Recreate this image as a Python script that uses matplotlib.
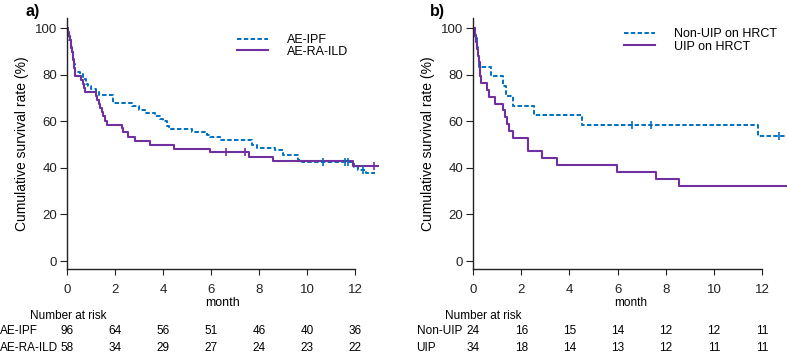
import matplotlib
matplotlib.use("Agg")
import matplotlib.pyplot as plt
import matplotlib.transforms as mtransforms

plt.rcParams['font.family'] = ['Liberation Sans', 'DejaVu Sans']

BLUE = '#0070C0'
PURPLE = '#7030A0'

# ---- panel a: AE-IPF vs AE-RA-ILD (last point = end of follow-up)
ipf_t = [0, 0.05, 0.1, 0.15, 0.2, 0.25, 0.29, 0.33, 0.54, 0.68, 0.79, 0.89, 1.0, 1.21,
         1.35, 1.93, 2.7, 3.0, 3.25, 3.67, 3.87, 4.0, 4.15, 4.25, 5.2, 5.82, 5.96, 6.38,
         7.69, 7.9, 8.67, 9.01, 9.64, 9.8, 11.96, 12.14, 12.46, 12.83]
ipf_s = [100, 97.9, 94.8, 91.7, 89.6, 86.5, 84.4, 81.3, 80.2, 78.1, 76.0, 75.0, 74.0, 72.9,
         71.2, 67.7, 66.5, 64.8, 63.4, 62.2, 61.1, 60.0, 58.0, 56.5, 55.2, 54.1, 53.4, 51.9,
         49.8, 48.7, 47.6, 45.5, 43.3, 42.4, 40.5, 39.1, 37.9, 37.9]
ipf_cens_t = [10.65, 11.6, 11.7, 12.35]
ipf_cens_s = [42.4, 42.4, 42.4, 39.1]

ra_t = [0, 0.05, 0.09, 0.12, 0.15, 0.18, 0.21, 0.24, 0.27, 0.29, 0.31, 0.33, 0.57, 0.65,
        0.70, 0.75, 1.21, 1.27, 1.33, 1.37, 1.44, 1.51, 1.58, 1.65, 2.28, 2.32, 2.55, 2.83,
        3.46, 4.46, 5.96, 7.6, 8.6, 11.9, 12.95]
ra_s = [100, 98.3, 96.6, 94.8, 93.1, 91.4, 89.7, 87.9, 86.2, 84.5, 82.8, 79.3, 77.6, 75.9,
        74.1, 72.4, 70.7, 69.0, 67.2, 65.5, 63.8, 62.1, 60.3, 58.6, 56.9, 55.2, 53.4, 51.7,
        50.0, 48.3, 46.6, 44.7, 42.9, 41.0, 41.0]
ra_cens_t = [6.61, 7.42, 12.8]
ra_cens_s = [46.6, 46.6, 41.0]

# ---- panel b: Non-UIP vs UIP on HRCT
nuip_t = [0, 0.1, 0.15, 0.2, 0.24, 0.73, 1.23, 1.37, 1.67, 2.53, 4.51, 11.84, 13.1]
nuip_s = [100, 95.8, 91.7, 87.5, 83.3, 79.2, 75.0, 70.8, 66.7, 62.5, 58.3, 53.5, 53.5]
nuip_cens_t = [6.6, 7.37, 12.7]
nuip_cens_s = [58.3, 58.3, 53.5]

uip_t = [0, 0.08, 0.12, 0.17, 0.2, 0.25, 0.29, 0.31, 0.35, 0.59, 0.68, 0.91, 1.23, 1.33,
         1.40, 1.48, 1.65, 2.27, 2.88, 3.47, 5.96, 7.59, 8.56, 13.1]
uip_s = [100, 97.1, 94.1, 91.2, 88.2, 85.3, 82.4, 79.4, 76.5, 73.5, 70.6, 67.6, 64.7, 61.8,
         58.8, 55.9, 52.9, 47.1, 44.1, 41.2, 38.2, 35.3, 32.4, 32.4]

risk_months = [0, 2, 4, 6, 8, 10, 12]
risk_a_labels = ['AE-IPF', 'AE-RA-ILD']
risk_a = [[96, 64, 56, 51, 46, 40, 36],
          [58, 34, 29, 27, 24, 23, 22]]
risk_b_labels = ['Non-UIP', 'UIP']
risk_b = [[24, 16, 15, 14, 12, 12, 11],
          [34, 18, 14, 13, 12, 11, 11]]

W, H = 787, 355
fig = plt.figure(figsize=(W / 100, H / 100), dpi=100)

y_bot, y_top = 269, 18   # pixel rows of the axes frame


def make_axes(x0_px, px_per_month, xmax):
    ax = fig.add_axes([x0_px / W, (H - y_bot) / H,
                       xmax * px_per_month / W, (y_bot - y_top) / H])
    ax.set_xlim(0, xmax)
    ax.set_ylim(-3.4, 104.3)
    ax.spines['top'].set_visible(False)
    ax.spines['right'].set_visible(False)
    ax.spines['bottom'].set_bounds(0, 12)
    for s in ('left', 'bottom'):
        ax.spines[s].set_linewidth(1.0)
        ax.spines[s].set_color('#222222')
    ax.set_xticks(risk_months)
    ax.set_yticks([0, 20, 40, 60, 80, 100])
    ax.tick_params(axis='y', length=5, width=0.8, pad=2, labelsize=9.5, colors='#222222')
    ax.tick_params(axis='x', length=4.5, width=0.8, pad=6, labelsize=9.5, colors='#222222')
    ax.set_ylabel('Cumulative survival rate (%)', fontsize=10, labelpad=4)
    return ax


dash = (0, (2.3, 1.2))

# panel a
ax1 = make_axes(67, 24.0, 13.0)
ax1.step(ipf_t, ipf_s, where='post', color=BLUE, lw=1.4, ls=dash, label='AE-IPF')
ax1.step(ra_t, ra_s, where='post', color=PURPLE, lw=1.5, label='AE-RA-ILD')
ax1.plot(ipf_cens_t, ipf_cens_s, ls='none', marker='|', ms=6, mew=1.2, color=BLUE)
ax1.plot(ra_cens_t, ra_cens_s, ls='none', marker='|', ms=6, mew=1.2, color=PURPLE)
ax1.set_xlabel('month', fontsize=9, labelpad=1)
ax1.legend(loc='upper left', bbox_to_anchor=(0.545, 0.935), frameon=False, fontsize=9,
           borderpad=0, borderaxespad=0, handlelength=2.5, handletextpad=1.5,
           labelspacing=-0.05)

# panel b
ax2 = make_axes(473, 24.1, 13.05)
ax2.step(nuip_t, nuip_s, where='post', color=BLUE, lw=1.4, ls=dash, label='Non-UIP on HRCT')
ax2.step(uip_t, uip_s, where='post', color=PURPLE, lw=1.5, label='UIP on HRCT')
ax2.plot(nuip_cens_t, nuip_cens_s, ls='none', marker='|', ms=6, mew=1.2, color=BLUE)
ax2.set_xlabel('month', fontsize=8.5, labelpad=1)
ax2.legend(loc='upper left', bbox_to_anchor=(0.48, 0.96), frameon=False, fontsize=9,
           borderpad=0, borderaxespad=0, handlelength=2.5, handletextpad=1.5,
           labelspacing=0.05)

# panel letters
fig.text(25 / W, 1 - 4 / H, 'a)', fontsize=11.5, fontweight='bold', va='top', ha='left')
fig.text(430 / W, 1 - 4 / H, 'b)', fontsize=11.5, fontweight='bold', va='top', ha='left')

# number at risk tables
row_y = [331.5, 348.3]


def risk_table(ax, title_x, label_x, labels, rows):
    trans = mtransforms.blended_transform_factory(ax.transData, fig.transFigure)
    fig.text(title_x / W, 1 - 316 / H, 'Number at risk', fontsize=8.5, va='center', ha='left')
    for lab, vals, yy in zip(labels, rows, row_y):
        fig.text(label_x / W, 1 - yy / H, lab, fontsize=8.5, va='center', ha='left')
        for m, v in zip(risk_months, vals):
            ax.text(m, 1 - yy / H, str(v), transform=trans, fontsize=8.5,
                    va='center', ha='center')


risk_table(ax1, 30.5, 0, risk_a_labels, risk_a)
risk_table(ax2, 445, 416.5, risk_b_labels, risk_b)

fig.savefig('out.png', dpi=100)
